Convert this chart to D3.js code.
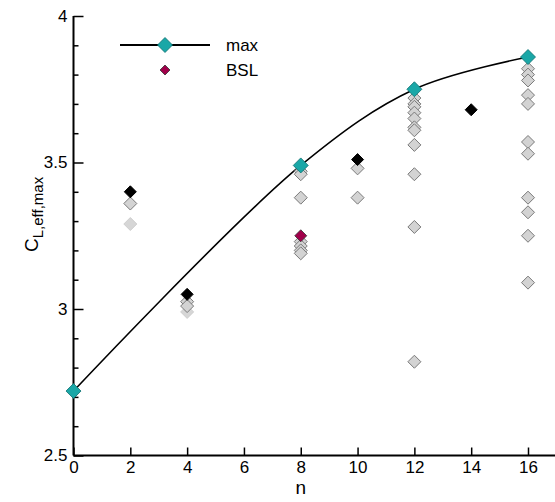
<!DOCTYPE html>
<html>
<head>
<meta charset="utf-8">
<script src="https://cdn.jsdelivr.net/npm/d3@7"></script>
<style>
  body { margin: 0; background: #fff; }
  svg { display: block; font-family: "Liberation Sans", Arial, Helvetica, sans-serif; }
</style>
</head>
<body>
<div id="chart"></div>
<script>
// envelope of the best designs
const maxN = [0, 8, 12, 16];
const maxC = [2.72, 3.49, 3.75, 3.86];

// baseline
const bslN = [8];
const bslC = [3.25];

// best design of each n not on the envelope
const bestN = [2, 4, 10, 14];
const bestC = [3.40, 3.05, 3.51, 3.68];

// all other evaluated designs
const grayN = [2, 4, 4,
  8, 8, 8, 8, 8, 8, 8,
  10, 10,
  12, 12, 12, 12, 12, 12, 12, 12, 12, 12, 12,
  16, 16, 16, 16, 16, 16, 16, 16, 16, 16, 16];
const grayC = [3.36, 3.025, 3.01,
  3.47, 3.46, 3.38, 3.23, 3.215, 3.20, 3.19,
  3.48, 3.38,
  3.72, 3.70, 3.69, 3.67, 3.65, 3.62, 3.61, 3.56, 3.46, 3.28, 2.82,
  3.82, 3.80, 3.78, 3.73, 3.70, 3.57, 3.53, 3.38, 3.33, 3.25, 3.09];
const faintN = [2, 4];
const faintC = [3.29, 2.99];

const xTicks = [0, 2, 4, 6, 8, 10, 12, 14, 16];
const yTicks = [2.5, 3, 3.5, 4];
const yMinor = [2.6, 2.7, 2.8, 2.9, 3.1, 3.2, 3.3, 3.4, 3.6, 3.7, 3.8, 3.9];

const width = 555, height = 502;
const x = d3.scaleLinear().domain([0, 16]).range([73.5, 528]);
const y = d3.scaleLinear().domain([2.5, 4]).range([455.5, 16]);

const svg = d3.select("#chart").append("svg")
  .attr("width", width).attr("height", height);

const diamond = r => `M0,${-r}L${r},0L0,${r}L${-r},0Z`;

// axes
const gx = svg.append("g").attr("transform", `translate(0,${y(2.5)})`)
  .call(d3.axisBottom(x).tickValues(xTicks).tickSize(-8).tickPadding(5).tickSizeOuter(0));
gx.select(".domain").remove();
gx.append("line").attr("x1", x(0)).attr("x2", width).attr("stroke", "#000").attr("stroke-width", 2);

const gy = svg.append("g").attr("transform", `translate(${x(0)},0)`)
  .call(d3.axisLeft(y).tickValues(yTicks).tickFormat(d3.format("")).tickSize(-10).tickPadding(6).tickSizeOuter(0));
gy.select(".domain").remove();
gy.append("line").attr("y1", y(4)).attr("y2", y(2.5)).attr("stroke", "#000").attr("stroke-width", 2);

svg.append("g").attr("transform", `translate(${x(0)},0)`)
  .call(d3.axisLeft(y).tickValues(yMinor).tickSize(-5).tickFormat(""))
  .select(".domain").remove();

svg.selectAll(".tick line").attr("stroke", "#000").attr("stroke-width", 1.5);
svg.selectAll(".tick text").attr("font-size", 17).attr("fill", "#000")
  .attr("font-family", "Liberation Sans, Arial, sans-serif");
gx.selectAll(".tick text").attr("dy", "0.75em");

// axis titles
svg.append("text").attr("x", x(8)).attr("y", 494).attr("text-anchor", "middle")
  .attr("font-size", 19).text("n");

const yl = svg.append("text").attr("transform", "translate(38,252) rotate(-90)")
  .attr("font-size", 19);
yl.append("tspan").text("C");
yl.append("tspan").attr("font-size", 15).attr("dy", 5).text("L,eff,max");

// envelope curve
const line = d3.line().x(d => x(d[0])).y(d => y(d[1])).curve(d3.curveCatmullRom);
svg.append("path").datum(d3.zip(maxN, maxC)).attr("d", line)
  .attr("fill", "none").attr("stroke", "#000").attr("stroke-width", 1.6);

const pts = (ns, cs) => d3.zip(ns, cs);

svg.append("g").selectAll("path").data(pts(faintN, faintC)).join("path")
  .attr("d", diamond(6.5)).attr("transform", d => `translate(${x(d[0])},${y(d[1])})`)
  .attr("fill", "#d6d6d6").attr("stroke", "#cfcfcf").attr("stroke-width", 1);

svg.append("g").selectAll("path").data(pts(grayN, grayC)).join("path")
  .attr("d", diamond(6.5)).attr("transform", d => `translate(${x(d[0])},${y(d[1])})`)
  .attr("fill", "#d3d3d3").attr("stroke", "#7a7a7a").attr("stroke-width", 1);

svg.append("g").selectAll("path").data(pts(bestN, bestC)).join("path")
  .attr("d", diamond(6)).attr("transform", d => `translate(${x(d[0])},${y(d[1])})`)
  .attr("fill", "#000").attr("stroke", "#000");

svg.append("g").selectAll("path").data(pts(bslN, bslC)).join("path")
  .attr("d", diamond(6)).attr("transform", d => `translate(${x(d[0])},${y(d[1])})`)
  .attr("fill", "#a0004a").attr("stroke", "#333").attr("stroke-width", 0.8);

svg.append("g").selectAll("path").data(pts(maxN, maxC)).join("path")
  .attr("d", diamond(7.5)).attr("transform", d => `translate(${x(d[0])},${y(d[1])})`)
  .attr("fill", "#1aa7a7").attr("stroke", "#0d6e6e").attr("stroke-width", 0.8);

// legend
const lg = svg.append("g");
lg.append("line").attr("x1", 120).attr("x2", 210).attr("y1", 45).attr("y2", 45)
  .attr("stroke", "#000").attr("stroke-width", 1.8);
lg.append("path").attr("d", diamond(7.5)).attr("transform", "translate(165,45)")
  .attr("fill", "#1aa7a7").attr("stroke", "#0d6e6e").attr("stroke-width", 0.8);
lg.append("path").attr("d", diamond(5)).attr("transform", "translate(165,70)")
  .attr("fill", "#a0004a").attr("stroke", "#333").attr("stroke-width", 0.8);
lg.append("text").attr("x", 226).attr("y", 51).attr("font-size", 17).text("max");
lg.append("text").attr("x", 226).attr("y", 76).attr("font-size", 17).text("BSL");
</script>
</body>
</html>
